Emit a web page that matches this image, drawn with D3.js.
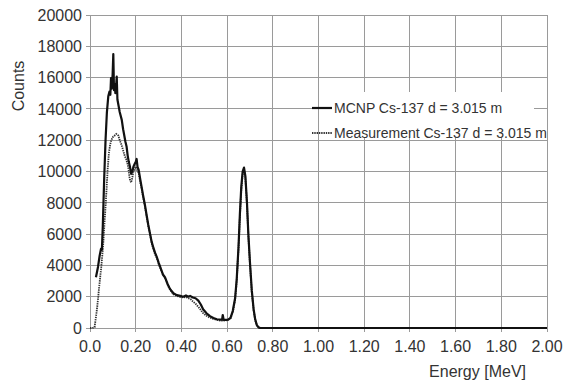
<!DOCTYPE html>
<html><head><meta charset="utf-8">
<script src="https://cdn.jsdelivr.net/npm/d3@7"></script>
<style>body{margin:0;background:#fff}svg{display:block}text{font-family:"Liberation Sans",Arial,sans-serif;fill:#333}</style>
</head><body>
<svg id="c" width="567" height="383"></svg>
<script>
const xTicks = [0,0.2,0.4,0.6,0.8,1.0,1.2,1.4,1.6,1.8,2.0];
const xTickLabels = ["0.0","0.20","0.40","0.60","0.80","1.00","1.20","1.40","1.60","1.80","2.00"];
const yTicks = [0,2000,4000,6000,8000,10000,12000,14000,16000,18000,20000];
const seriesNames = ["MCNP Cs-137 d = 3.015 m","Measurement Cs-137 d = 3.015 m"];
const mcnpE = [0.026,0.035,0.042,0.048,0.052,0.056,0.062,0.068,0.074,0.080,0.085,0.089,0.092,0.095,0.099,0.102,0.105,0.108,0.111,0.114,0.117,0.120,0.125,0.130,0.139,0.145,0.150,0.155,0.160,0.165,0.170,0.175,0.180,0.185,0.190,0.196,0.200,0.204,0.208,0.213,0.220,0.226,0.232,0.240,0.248,0.255,0.263,0.270,0.278,0.285,0.292,0.300,0.310,0.320,0.328,0.340,0.350,0.365,0.380,0.395,0.408,0.420,0.430,0.438,0.450,0.462,0.474,0.485,0.495,0.510,0.525,0.540,0.555,0.570,0.578,0.581,0.585,0.595,0.605,0.615,0.625,0.635,0.642,0.650,0.656,0.662,0.668,0.674,0.680,0.687,0.693,0.700,0.708,0.716,0.723,0.730,0.737,0.744,2.0];
const mcnpC = [3240,3900,4600,5050,5000,6500,9500,12000,13800,14800,15100,14900,15970,15300,16200,17500,15200,15600,15000,15400,16060,14600,14200,13800,13300,12700,12300,11900,11600,11000,10600,10300,9850,10000,10300,10500,10600,10800,10300,10100,9500,9000,8500,7900,7200,6600,6000,5500,5100,4800,4550,4200,3800,3400,3250,2800,2500,2220,2100,2050,2000,2080,2000,2050,1950,1900,1750,1500,1200,940,760,640,560,540,530,830,520,520,540,650,1100,1900,3100,5200,7300,9000,10000,10250,9700,8000,6000,4200,2400,1200,550,190,50,0,0];
const measE = [0.0,0.010,0.020,0.026,0.032,0.036,0.042,0.048,0.053,0.058,0.063,0.069,0.074,0.078,0.083,0.088,0.093,0.100,0.108,0.115,0.124,0.130,0.138,0.146,0.152,0.158,0.164,0.168,0.172,0.176,0.180,0.185,0.190,0.196,0.200,0.206,0.213,0.220,0.226,0.232,0.240,0.248,0.255,0.263,0.270,0.278,0.285,0.292,0.300,0.310,0.320,0.328,0.340,0.350,0.365,0.380,0.395,0.408,0.420,0.430,0.440,0.450,0.462,0.474,0.485,0.495,0.510,0.525,0.540,0.555,0.570,0.585,0.600,0.615,0.625,0.635,0.642,0.650,0.656,0.662,0.668,0.674,0.680,0.687,0.693,0.700,0.708,0.716,0.723,0.730,0.737,0.744,2.0];
const measC = [0,0,50,700,1400,2000,2900,3700,4500,5400,6600,7970,9300,10300,11200,11700,12000,12200,12300,12400,12300,12000,11700,11300,11000,10800,10500,10200,9700,9400,9300,9600,10000,10200,10300,10100,9900,9300,8900,8400,7800,7100,6500,6000,5400,5000,4700,4500,4100,3750,3350,3200,2750,2450,2150,2050,1980,1950,1980,1900,1850,1700,1550,1350,1150,950,780,660,580,520,480,470,500,620,1000,1800,3000,5100,7100,8800,9800,10100,9600,7900,5900,4100,2300,1150,500,180,40,0,0];

const svg = d3.select("#c");
const x = d3.scaleLinear().domain([0,2]).range([90,547]);
const y = d3.scaleLinear().domain([0,20000]).range([328,15]);

// grid
const g = svg.append("g");
g.selectAll(".vg").data(xTicks).join("line")
  .attr("x1",d=>x(d)).attr("x2",d=>x(d)).attr("y1",15).attr("y2",328)
  .attr("stroke","#9a9a9a").attr("stroke-width",1).attr("shape-rendering","crispEdges");
g.selectAll(".hg").data(yTicks).join("line")
  .attr("x1",86).attr("x2",547).attr("y1",d=>y(d)).attr("y2",d=>y(d))
  .attr("stroke","#9a9a9a").attr("stroke-width",1).attr("shape-rendering","crispEdges");
g.selectAll(".bt").data(xTicks).join("line")
  .attr("x1",d=>x(d)).attr("x2",d=>x(d)).attr("y1",328).attr("y2",332)
  .attr("stroke","#9a9a9a").attr("shape-rendering","crispEdges");

svg.append("g").selectAll("text").data(yTicks).join("text")
  .attr("x",82).attr("y",d=>y(d)).attr("dy","0.36em").attr("text-anchor","end")
  .attr("font-size","16px").text(d=>d);
svg.append("g").selectAll("text").data(xTicks).join("text")
  .attr("x",d=>x(d)).attr("y",352).attr("text-anchor","middle")
  .attr("font-size","16px").text((d,i)=>xTickLabels[i]);

svg.append("rect").attr("x",321).attr("y",92).attr("width",213).attr("height",45).attr("fill","#fff");

const line = d3.line().x(d=>x(d[0])).y(d=>y(d[1]));
const meas = measE.map((e,i)=>[e,measC[i]]);
const mcnp = mcnpE.map((e,i)=>[e,mcnpC[i]]);
svg.append("path").attr("d",line(meas)).attr("fill","none")
  .attr("stroke","#333").attr("stroke-width",1.8).attr("stroke-dasharray","1.4,0.9");
svg.append("path").attr("d",line(mcnp)).attr("fill","none")
  .attr("stroke","#111").attr("stroke-width",2.2).attr("stroke-linejoin","round");

svg.append("line").attr("x1",312).attr("x2",332).attr("y1",108).attr("y2",108)
  .attr("stroke","#111").attr("stroke-width",2.2);
svg.append("text").attr("x",334).attr("y",113).attr("font-size","14px").text(seriesNames[0]);
svg.append("line").attr("x1",312).attr("x2",332).attr("y1",133).attr("y2",133)
  .attr("stroke","#333").attr("stroke-width",1.8).attr("stroke-dasharray","1.4,0.9");
svg.append("text").attr("x",334).attr("y",138).attr("font-size","14px").text(seriesNames[1]);

svg.append("text").attr("transform","translate(24,86) rotate(-90)").attr("text-anchor","middle")
  .attr("font-size","16px").text("Counts");
svg.append("text").attr("x",526).attr("y",377).attr("text-anchor","end")
  .attr("font-size","16px").text("Energy [MeV]");
</script>
</body></html>
